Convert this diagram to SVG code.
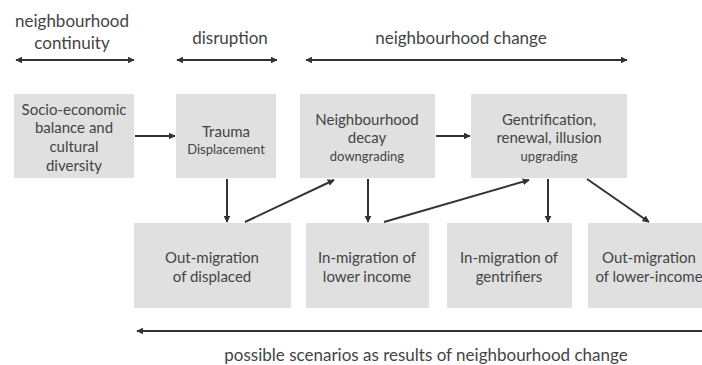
<svg xmlns="http://www.w3.org/2000/svg" width="702" height="365" viewBox="0 0 702 365">
<defs>
<marker id="ah" viewBox="0 0 10 10" refX="9" refY="5" markerWidth="7" markerHeight="7" markerUnits="userSpaceOnUse" orient="auto-start-reverse">
<path d="M0,0 L10,5 L0,10 Z" fill="#333"/>
</marker>
<style>
.box{fill:#e0e0e0}
.t{font-family:Lato,"Open Sans","Liberation Sans",sans-serif;font-size:15px;fill:#444;text-anchor:middle}
.s{font-size:13px}
.h{font-family:Lato,"Open Sans","Liberation Sans",sans-serif;font-size:17px;fill:#444;text-anchor:middle}
.c{stroke:#333;stroke-width:2;fill:none}
</style>
</defs>
<rect width="702" height="365" fill="#fff"/>
<g id="labels">
<text class="h" x="72" y="27">neighbourhood</text>
<text class="h" x="72" y="49">continuity</text>
<text class="h" x="230" y="44">disruption</text>
<text class="h" x="461" y="44">neighbourhood change</text>
<text class="h" x="426" y="361">possible scenarios as results of neighbourhood change</text>
</g>
<g id="n1"><rect class="box" x="14" y="94" width="120" height="84"/>
<text class="t" x="74" y="115">Socio-economic</text><text class="t" x="74" y="133">balance and</text><text class="t" x="74" y="152">cultural</text><text class="t" x="74" y="171">diversity</text></g>
<g id="n2"><rect class="box" x="176" y="94" width="100" height="84"/>
<text class="t" x="226" y="137">Trauma</text><text class="t s" x="226" y="154">Displacement</text></g>
<g id="n3"><rect class="box" x="300" y="94" width="135" height="84"/>
<text class="t" x="367" y="125">Neighbourhood</text><text class="t" x="367" y="143">decay</text><text class="t s" x="367" y="161">downgrading</text></g>
<g id="n4"><rect class="box" x="471" y="94" width="156" height="84"/>
<text class="t" x="549" y="125">Gentrification,</text><text class="t" x="549" y="143">renewal, illusion</text><text class="t s" x="549" y="161">upgrading</text></g>
<g id="n5"><rect class="box" x="134" y="223" width="157" height="85"/>
<text class="t" x="212" y="263">Out-migration</text><text class="t" x="212" y="282">of displaced</text></g>
<g id="n6"><rect class="box" x="306" y="223" width="123" height="85"/>
<text class="t" x="367" y="263">In-migration of</text><text class="t" x="367" y="282">lower income</text></g>
<g id="n7"><rect class="box" x="447" y="223" width="125" height="85"/>
<text class="t" x="509" y="263">In-migration of</text><text class="t" x="509" y="282">gentrifiers</text></g>
<g id="n8"><rect class="box" x="588" y="223" width="124" height="85"/>
<text class="t" x="649" y="263">Out-migration</text><text class="t" x="649" y="282">of lower-income</text></g>
<g id="connectors">
<line class="c" x1="16" y1="60" x2="134" y2="60" marker-start="url(#ah)" marker-end="url(#ah)"/>
<line class="c" x1="177" y1="60" x2="277" y2="60" marker-start="url(#ah)" marker-end="url(#ah)"/>
<line class="c" x1="306" y1="60" x2="627" y2="60" marker-start="url(#ah)" marker-end="url(#ah)"/>
<line class="c" x1="702" y1="331" x2="137" y2="331" marker-end="url(#ah)"/>
<line class="c" x1="135" y1="136" x2="175" y2="136" marker-end="url(#ah)"/>
<line class="c" x1="227" y1="179" x2="227" y2="222" marker-end="url(#ah)"/>
<line class="c" x1="245" y1="222" x2="334" y2="180" marker-end="url(#ah)"/>
<line class="c" x1="368" y1="179" x2="368" y2="222" marker-end="url(#ah)"/>
<line class="c" x1="436" y1="136" x2="470" y2="136" marker-end="url(#ah)"/>
<line class="c" x1="384" y1="222" x2="529" y2="180" marker-end="url(#ah)"/>
<line class="c" x1="548" y1="179" x2="548" y2="222" marker-end="url(#ah)"/>
<line class="c" x1="587" y1="179" x2="649" y2="222" marker-end="url(#ah)"/>
</g>
</svg>
